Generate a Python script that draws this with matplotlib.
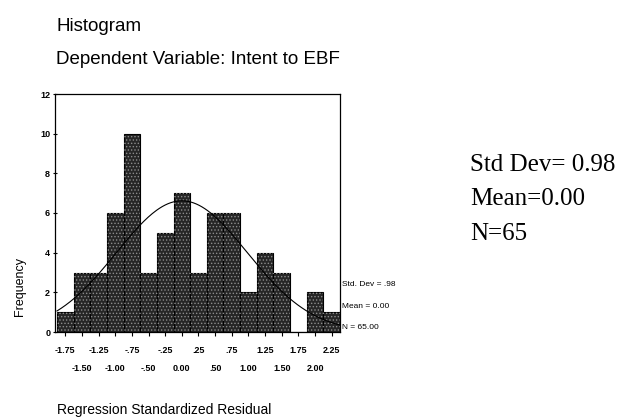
import numpy as np
import matplotlib
matplotlib.use("Agg")
import matplotlib.pyplot as plt

# bin centres and counts
bin_centers = [-1.75, -1.50, -1.25, -1.00, -0.75, -0.50, -0.25, 0.00, 0.25,
               0.50, 0.75, 1.00, 1.25, 1.50, 1.75, 2.00, 2.25]
counts = [1, 3, 3, 6, 10, 3, 5, 7, 3, 6, 6, 2, 4, 3, 0, 2, 1]
tick_labels = ["-1.75", "-1.50", "-1.25", "-1.00", "-.75", "-.50", "-.25", "0.00", ".25",
               ".50", ".75", "1.00", "1.25", "1.50", "1.75", "2.00", "2.25"]
std_dev = 0.98
mean = 0.00
n_obs = 65
bin_w = 0.25

W, H = 627, 417
plt.rcParams['font.family'] = ['Liberation Sans', 'DejaVu Sans']
plt.rcParams['hatch.linewidth'] = 0.6

fig = plt.figure(figsize=(W / 100, H / 100), dpi=100)
ax = fig.add_axes([55 / W, 1 - 332 / H, (340 - 55) / W, (332 - 94) / H])

ax.bar(bin_centers, counts, width=bin_w, color='#262626', edgecolor='black', lw=0.8)
ax.bar(bin_centers, counts, width=bin_w, fill=False, hatch='.....', edgecolor='#8c8c8c', lw=0)

# fitted normal curve
xs = np.linspace(bin_centers[0] - bin_w / 2, bin_centers[-1] + bin_w / 2, 200)
ys = n_obs * bin_w / (std_dev * np.sqrt(2 * np.pi)) * np.exp(-0.5 * ((xs - mean) / std_dev) ** 2)
ax.plot(xs, ys, color='black', lw=0.8)

ax.set_xlim(-1.905, 2.375)
ax.set_ylim(0, 12)
ax.set_yticks(range(0, 13, 2))
# two staggered rows of tick labels
ax.set_xticks(bin_centers[0::2])
ax.set_xticklabels(tick_labels[0::2])
ax.set_xticks(bin_centers[1::2], minor=True)
ax.set_xticklabels(tick_labels[1::2], minor=True)
ax.tick_params(axis='both', which='both', labelsize=6.5, length=3, width=0.8)
ax.tick_params(axis='x', which='major', pad=7)
ax.tick_params(axis='x', which='minor', pad=20)
ax.tick_params(axis='y', direction='inout', pad=2)
for lab in ax.get_yticklabels() + ax.get_xticklabels() + ax.get_xticklabels(minor=True):
    lab.set_fontweight('bold')
for s in ax.spines.values():
    s.set_linewidth(0.9)

ax.text(2.40, 2.4, "Std. Dev = .98", fontsize=6, va='center')
ax.text(2.40, 1.3, "Mean = 0.00", fontsize=6, va='center')
ax.text(2.40, 0.25, "N = 65.00", fontsize=6, va='center')

fig.text(56 / W, 1 - 31 / H, "Histogram", fontsize=13.5, va='baseline')
fig.text(56 / W, 1 - 64 / H, "Dependent Variable: Intent to EBF", fontsize=13.5, va='baseline')
fig.text(20 / W, 1 - 286 / H, "Frequency", fontsize=9, rotation=90, va='center', ha='center')
fig.text(57 / W, 1 - 410 / H, "Regression Standardized Residual", fontsize=10, va='center')

serif = ['Liberation Serif', 'DejaVu Serif']
fig.text(470 / W, 1 - 171 / H, "Std Dev= 0.98", fontsize=18, family=serif, va='baseline')
fig.text(470 / W, 1 - 205 / H, "Mean=0.00", fontsize=18, family=serif, va='baseline')
fig.text(470 / W, 1 - 240 / H, "N=65", fontsize=18, family=serif, va='baseline')

fig.savefig("out.png", dpi=100, facecolor='white')
